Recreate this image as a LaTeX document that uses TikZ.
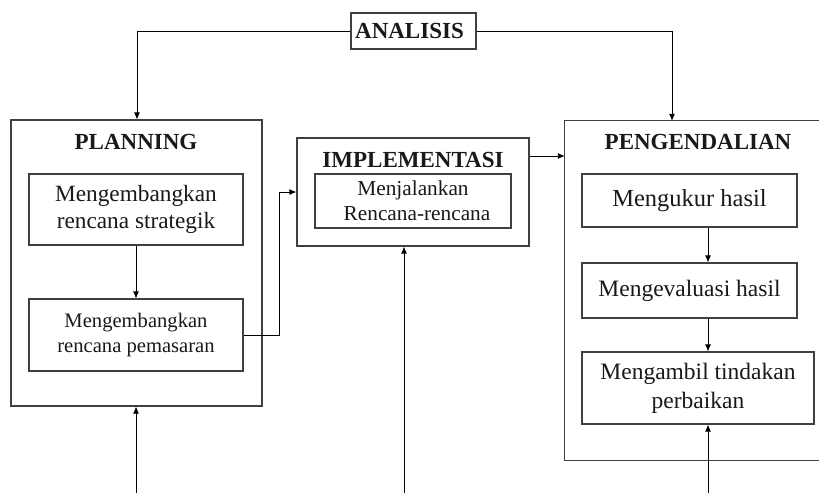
\documentclass[tikz,border=0pt]{standalone}
\usepackage{fontspec}
\setmainfont{Liberation Serif}
\usetikzlibrary{arrows.meta}
\begin{document}
\begin{tikzpicture}[x=1pt,y=-1pt,
  boxline/.style={draw=black!75,line width=1.1pt},
  bx/.style={boxline,inner sep=0pt,align=center,text=black!90},
  ttl/.style={font=\fontsize{23}{26}\selectfont\bfseries,inner sep=0pt,text=black!90},
  conn/.style={draw=black,line width=0.9pt},
  arr/.style={conn,-{Latex[length=7pt,width=6pt]}}]
\useasboundingbox[fill=white] (0,0) rectangle (819,493);
\clip (0,0) rectangle (819,493);
% outer boxes
\node[bx,minimum width=251pt,minimum height=286pt] (plan) at (136.5,263) {};
\node[bx,minimum width=232pt,minimum height=108pt] (impl) at (413,192) {};
\node[inner sep=0pt,minimum width=280pt,minimum height=339pt] (peng) at (705,290.5) {};
\draw[boxline] (peng.north east) -- (peng.north west) -- (peng.south west) -- (peng.south east);
% analisis
\node[bx,minimum width=125pt,minimum height=36pt,font=\fontsize{23}{26}\selectfont\bfseries] (anal) at (413.5,31) {ANALISIS\hspace{8pt}};
% titles
\node[ttl] (plant) at (136,142) {PLANNING};
\node[ttl] (implt) at (413,160) {IMPLEMENTASI};
\node[ttl] (pengt) at (698,142) {PENGENDALIAN};
% inner boxes
\node[bx,minimum width=214pt,minimum height=71pt,font=\fontsize{23.3}{27}\selectfont] (p1) at (136,209.5) {Mengembangkan\\rencana strategik};
\node[bx,minimum width=214pt,minimum height=72pt,font=\fontsize{20.6}{25}\selectfont] (p2) at (136,335) {Mengembangkan\\rencana pemasaran};
\node[bx,minimum width=196pt,minimum height=54pt,font=\fontsize{21.3}{25}\selectfont] (i1) at (413,201) {Menjalankan\\\hspace{8pt}Rencana-rencana};
\node[bx,minimum width=215pt,minimum height=53pt,font=\fontsize{24.5}{28}\selectfont] (r1) at (689.5,200.5) {Mengukur hasil};
\node[bx,minimum width=215pt,minimum height=55pt,font=\fontsize{23.5}{28}\selectfont] (r2) at (689.5,290.5) {Mengevaluasi hasil};
\node[bx,minimum width=232pt,minimum height=72pt,font=\fontsize{23.5}{29}\selectfont] (r3) at (698,388) {Mengambil tindakan\\perbaikan};
% helper coordinates
\coordinate (colR) at (708,0);
\coordinate (colL) at (137,0);
\coordinate (colA) at (672,0);
\coordinate (jog) at (279,0);
\coordinate (b1) at (136,493);
\coordinate (b2) at (404,493);
\coordinate (b3) at (708,493);
% connectors
\draw[arr] (anal.west) -| (plan.north -| colL);
\draw[arr] (anal.east) -| (peng.north -| colA);
\draw[arr] (p1) -- (p2);
\draw[arr] (p2.east) -| (impl.west -| jog) -- (impl.west);
\draw[arr] (impl.east |- 0,156) -- (peng.west |- 0,156);
\draw[arr] (r1.south -| colR) -- (r2.north -| colR);
\draw[arr] (r2.south -| colR) -- (r3.north -| colR);
\draw[arr] (b1) -- (plan.south -| b1);
\draw[arr] (b2) -- (impl.south -| b2);
\draw[arr] (b3) -- (r3.south -| b3);
\end{tikzpicture}
\end{document}
